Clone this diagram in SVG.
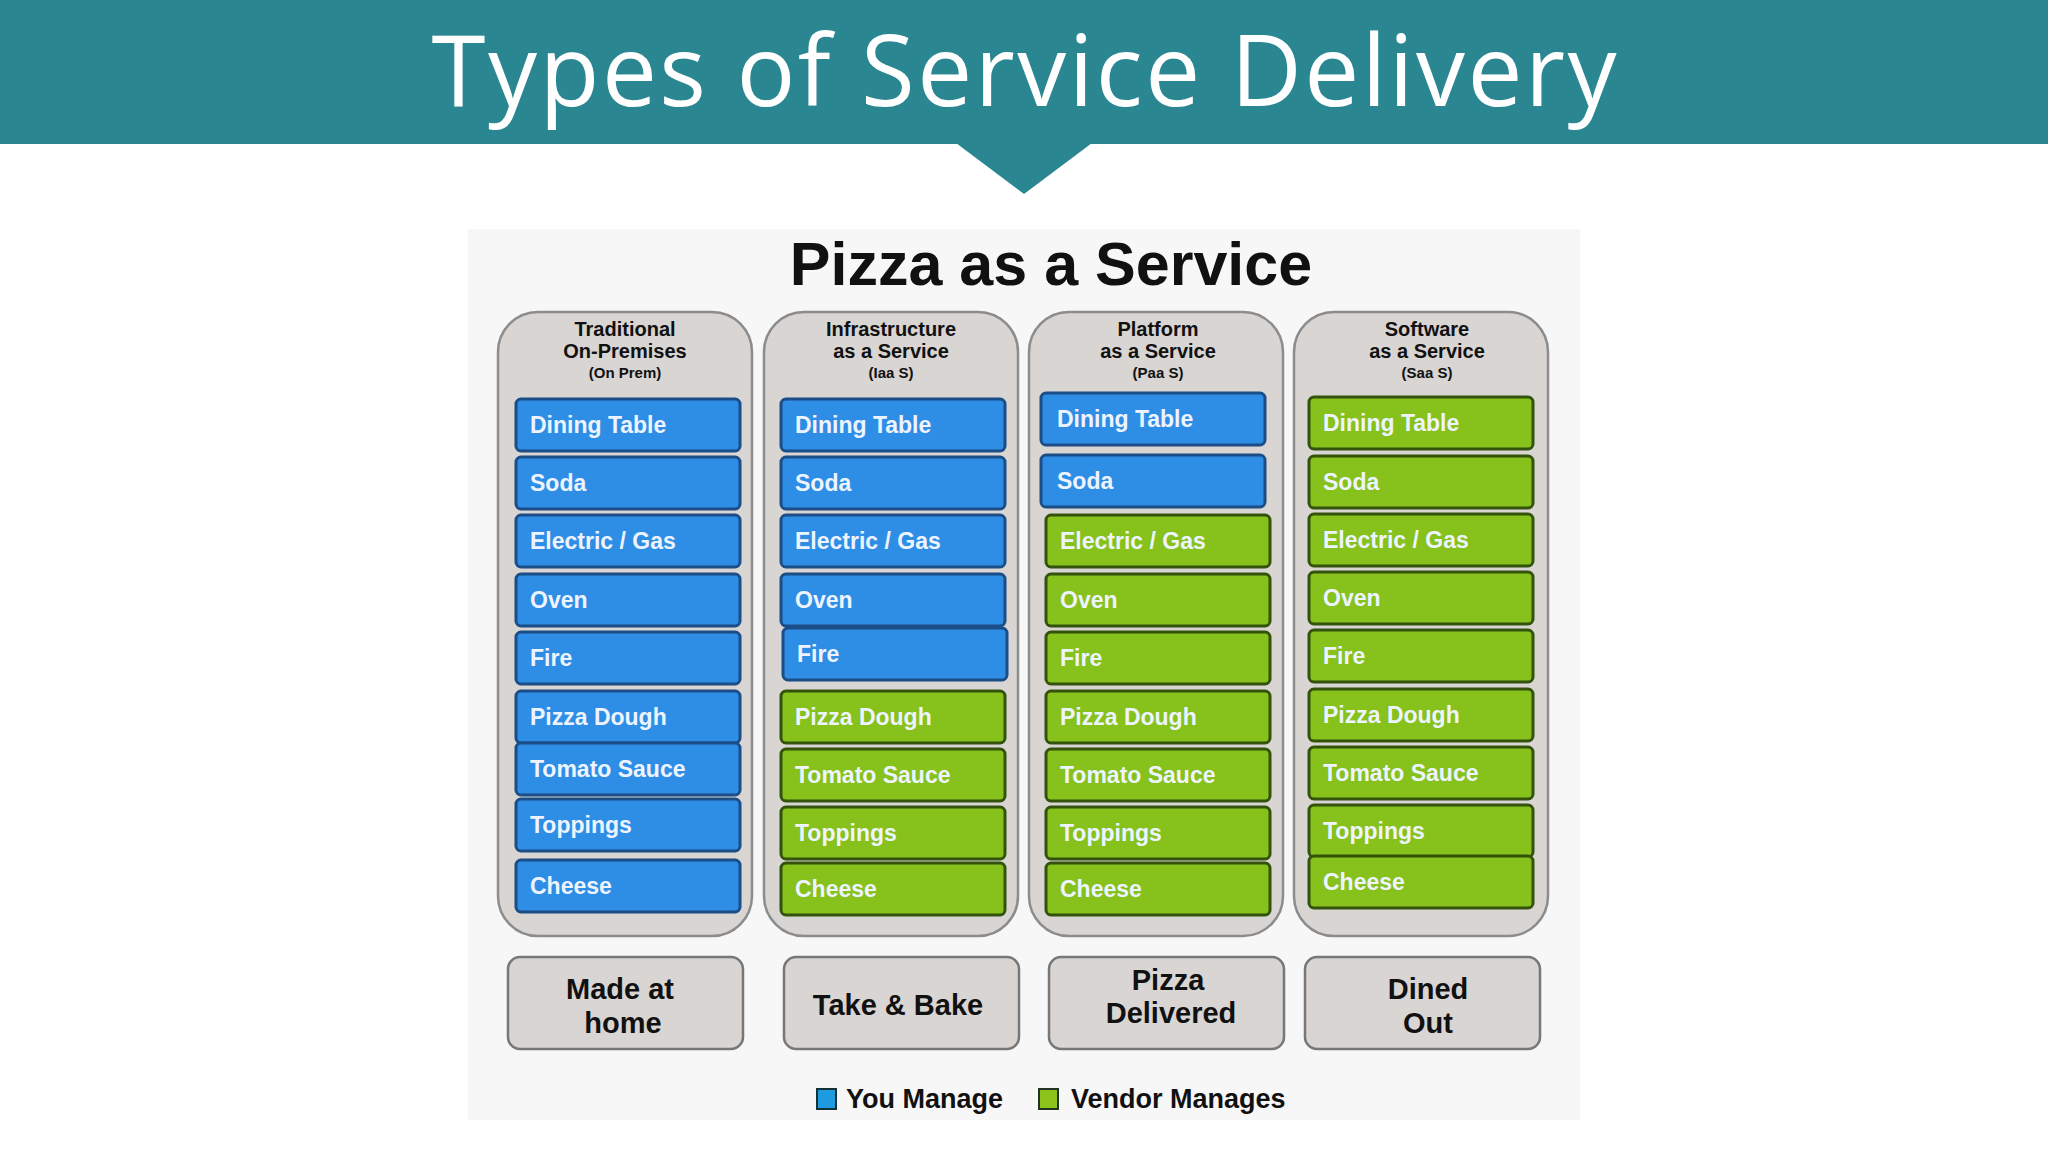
<svg xmlns="http://www.w3.org/2000/svg" width="2048" height="1152" viewBox="0 0 2048 1152">
<style>
.col{fill:#d8d5d3;stroke:#8c8c8c;stroke-width:2.5}
.b{fill:#2e8ee6;stroke:#1b4d86;stroke-width:3}
.g{fill:#86c11c;stroke:#33520c;stroke-width:3}
.bt{font-family:"Liberation Sans",Arial,sans-serif;font-weight:bold;font-size:23px;fill:#eef4ff}
.h{font-family:"Liberation Sans",Arial,sans-serif;font-weight:bold;font-size:20px;fill:#111;text-anchor:middle}
.hs{font-family:"Liberation Sans",Arial,sans-serif;font-weight:bold;font-size:15px;fill:#111;text-anchor:middle}
.box{fill:#d8d5d3;stroke:#777;stroke-width:2.5}
.bx{font-family:"Liberation Sans",Arial,sans-serif;font-weight:bold;font-size:29px;fill:#111;text-anchor:middle}
.lg{font-family:"Liberation Sans",Arial,sans-serif;font-weight:bold;font-size:27px;fill:#111}
</style>
<rect width="2048" height="1152" fill="#fff"/>
<rect x="0" y="0" width="2048" height="144" fill="#2a8690"/>
<polygon points="956,143 1092,143 1024,194" fill="#2a8690"/>
<text x="1024" y="106" text-anchor="middle" font-family="'Open Sans',sans-serif" font-size="98" textLength="1185" lengthAdjust="spacing" fill="#fff">Types of Service Delivery</text>
<rect x="468" y="229" width="1112" height="891" fill="#f7f7f7"/>
<text x="1051" y="285" text-anchor="middle" font-family="'Liberation Sans',Arial,sans-serif" font-weight="bold" font-size="61" fill="#111">Pizza as a Service</text>
<g id="col1">
<rect class="col" x="498" y="312" width="254" height="624" rx="40"/>
<text class="h" x="625" y="336">Traditional</text><text class="h" x="625" y="358">On-Premises</text><text class="hs" x="625" y="378">(On Prem)</text>
<rect class="b" x="516" y="399" width="224" height="52" rx="5"/><text class="bt" x="530" y="433">Dining Table</text>
<rect class="b" x="516" y="457" width="224" height="52" rx="5"/><text class="bt" x="530" y="491">Soda</text>
<rect class="b" x="516" y="515" width="224" height="52" rx="5"/><text class="bt" x="530" y="549">Electric / Gas</text>
<rect class="b" x="516" y="574" width="224" height="52" rx="5"/><text class="bt" x="530" y="608">Oven</text>
<rect class="b" x="516" y="632" width="224" height="52" rx="5"/><text class="bt" x="530" y="666">Fire</text>
<rect class="b" x="516" y="691" width="224" height="52" rx="5"/><text class="bt" x="530" y="725">Pizza Dough</text>
<rect class="b" x="516" y="743" width="224" height="52" rx="5"/><text class="bt" x="530" y="777">Tomato Sauce</text>
<rect class="b" x="516" y="799" width="224" height="52" rx="5"/><text class="bt" x="530" y="833">Toppings</text>
<rect class="b" x="516" y="860" width="224" height="52" rx="5"/><text class="bt" x="530" y="894">Cheese</text>
</g>
<g id="col2">
<rect class="col" x="764" y="312" width="254" height="624" rx="40"/>
<text class="h" x="891" y="336">Infrastructure</text><text class="h" x="891" y="358">as a Service</text><text class="hs" x="891" y="378">(Iaa S)</text>
<rect class="b" x="781" y="399" width="224" height="52" rx="5"/><text class="bt" x="795" y="433">Dining Table</text>
<rect class="b" x="781" y="457" width="224" height="52" rx="5"/><text class="bt" x="795" y="491">Soda</text>
<rect class="b" x="781" y="515" width="224" height="52" rx="5"/><text class="bt" x="795" y="549">Electric / Gas</text>
<rect class="b" x="781" y="574" width="224" height="52" rx="5"/><text class="bt" x="795" y="608">Oven</text>
<rect class="b" x="783" y="628" width="224" height="52" rx="5"/><text class="bt" x="797" y="662">Fire</text>
<rect class="g" x="781" y="691" width="224" height="52" rx="5"/><text class="bt" x="795" y="725">Pizza Dough</text>
<rect class="g" x="781" y="749" width="224" height="52" rx="5"/><text class="bt" x="795" y="783">Tomato Sauce</text>
<rect class="g" x="781" y="807" width="224" height="52" rx="5"/><text class="bt" x="795" y="841">Toppings</text>
<rect class="g" x="781" y="863" width="224" height="52" rx="5"/><text class="bt" x="795" y="897">Cheese</text>
</g>
<g id="col3">
<rect class="col" x="1029" y="312" width="254" height="624" rx="40"/>
<text class="h" x="1158" y="336">Platform</text><text class="h" x="1158" y="358">as a Service</text><text class="hs" x="1158" y="378">(Paa S)</text>
<rect class="b" x="1041" y="393" width="224" height="52" rx="5"/><text class="bt" x="1057" y="427">Dining Table</text>
<rect class="b" x="1041" y="455" width="224" height="52" rx="5"/><text class="bt" x="1057" y="489">Soda</text>
<rect class="g" x="1046" y="515" width="224" height="52" rx="5"/><text class="bt" x="1060" y="549">Electric / Gas</text>
<rect class="g" x="1046" y="574" width="224" height="52" rx="5"/><text class="bt" x="1060" y="608">Oven</text>
<rect class="g" x="1046" y="632" width="224" height="52" rx="5"/><text class="bt" x="1060" y="666">Fire</text>
<rect class="g" x="1046" y="691" width="224" height="52" rx="5"/><text class="bt" x="1060" y="725">Pizza Dough</text>
<rect class="g" x="1046" y="749" width="224" height="52" rx="5"/><text class="bt" x="1060" y="783">Tomato Sauce</text>
<rect class="g" x="1046" y="807" width="224" height="52" rx="5"/><text class="bt" x="1060" y="841">Toppings</text>
<rect class="g" x="1046" y="863" width="224" height="52" rx="5"/><text class="bt" x="1060" y="897">Cheese</text>
</g>
<g id="col4">
<rect class="col" x="1294" y="312" width="254" height="624" rx="40"/>
<text class="h" x="1427" y="336">Software</text><text class="h" x="1427" y="358">as a Service</text><text class="hs" x="1427" y="378">(Saa S)</text>
<rect class="g" x="1309" y="397" width="224" height="52" rx="5"/><text class="bt" x="1323" y="431">Dining Table</text>
<rect class="g" x="1309" y="456" width="224" height="52" rx="5"/><text class="bt" x="1323" y="490">Soda</text>
<rect class="g" x="1309" y="514" width="224" height="52" rx="5"/><text class="bt" x="1323" y="548">Electric / Gas</text>
<rect class="g" x="1309" y="572" width="224" height="52" rx="5"/><text class="bt" x="1323" y="606">Oven</text>
<rect class="g" x="1309" y="630" width="224" height="52" rx="5"/><text class="bt" x="1323" y="664">Fire</text>
<rect class="g" x="1309" y="689" width="224" height="52" rx="5"/><text class="bt" x="1323" y="723">Pizza Dough</text>
<rect class="g" x="1309" y="747" width="224" height="52" rx="5"/><text class="bt" x="1323" y="781">Tomato Sauce</text>
<rect class="g" x="1309" y="805" width="224" height="52" rx="5"/><text class="bt" x="1323" y="839">Toppings</text>
<rect class="g" x="1309" y="856" width="224" height="52" rx="5"/><text class="bt" x="1323" y="890">Cheese</text>
</g>
<g id="box1"><rect class="box" x="508" y="957" width="235" height="92" rx="12"/><text class="bx" x="620" y="999">Made at</text><text class="bx" x="623" y="1033">home</text></g>
<g id="box2"><rect class="box" x="784" y="957" width="235" height="92" rx="12"/><text class="bx" x="898" y="1015">Take &amp; Bake</text></g>
<g id="box3"><rect class="box" x="1049" y="957" width="235" height="92" rx="12"/><text class="bx" x="1168" y="990">Pizza</text><text class="bx" x="1171" y="1023">Delivered</text></g>
<g id="box4"><rect class="box" x="1305" y="957" width="235" height="92" rx="12"/><text class="bx" x="1428" y="999">Dined</text><text class="bx" x="1428" y="1033">Out</text></g>
<g id="legend">
<rect x="817" y="1089" width="19" height="20" fill="#1e9be0" stroke="#133" stroke-width="2"/>
<text class="lg" x="846" y="1108">You Manage</text>
<rect x="1039" y="1089" width="19" height="20" fill="#8cc31a" stroke="#232" stroke-width="2"/>
<text class="lg" x="1071" y="1108">Vendor Manages</text>
</g>
<g id="connectors"/>
</svg>
